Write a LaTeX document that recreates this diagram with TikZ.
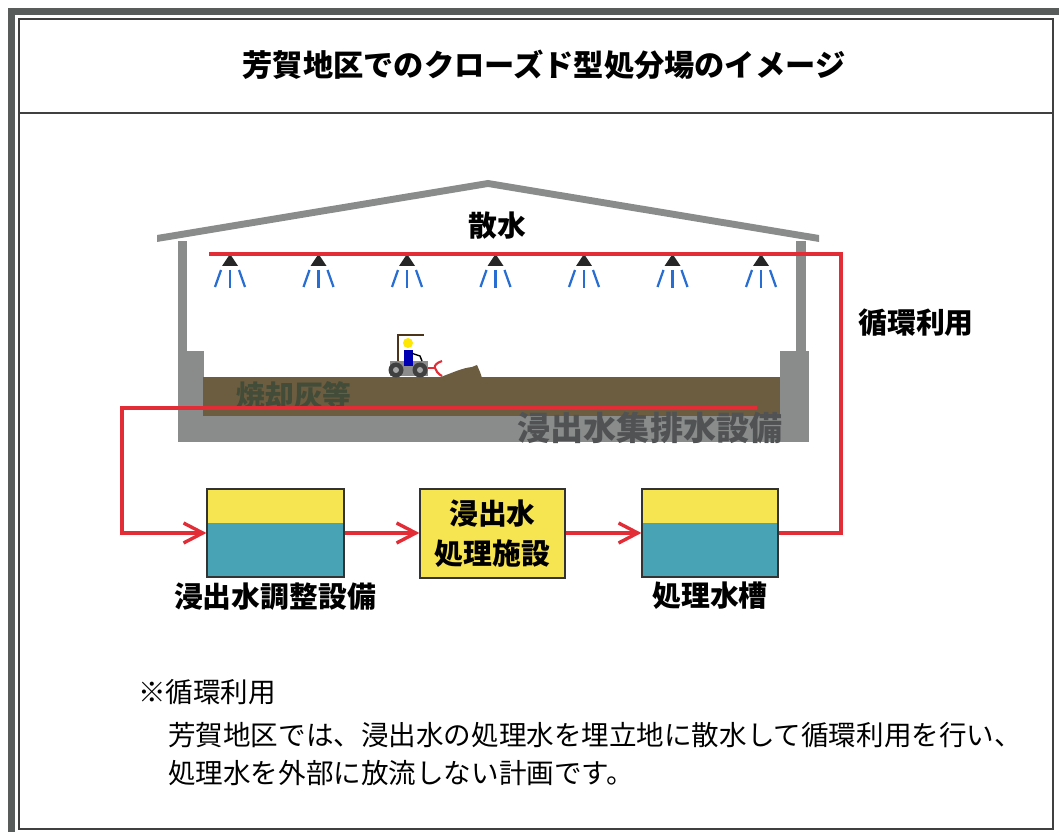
\documentclass[tikz,border=0pt]{standalone}
\usepackage{fontspec}
\usepackage{tikz}
\usetikzlibrary{arrows.meta}
\newfontfamily\jp{Noto Sans CJK JP}
\definecolor{waku}{RGB}{88,92,90}
\definecolor{kabe}{RGB}{137,140,139}
\definecolor{shokyakubai}{RGB}{108,92,64}
\definecolor{haisuikan}{RGB}{226,45,55}
\definecolor{tankue}{RGB}{246,228,80}
\definecolor{tanksui}{RGB}{72,163,181}
\definecolor{sansui}{RGB}{40,110,210}
\definecolor{setsubimoji}{RGB}{80,82,84}
\definecolor{haimoji}{RGB}{66,76,56}

\begin{document}
\begin{tikzpicture}[x=0.025cm,y=-0.025cm,
		pipe/.style={draw=haisuikan,line width=2.4pt},
		nagare/.style={pipe,-{Straight Barb[length=0.48cm,width=0.5cm]}},
		tank/.style={draw=black!80,line width=0.8pt,fill=tanksui,inner sep=0pt,
			minimum width=3.425cm,minimum height=2.2cm,
			path picture={\fill[tankue] (path picture bounding box.north west) rectangle ([yshift=-0.85cm]path picture bounding box.north east);}},
		futomoji/.style={inner sep=0pt,font=\jp\bfseries\fontsize{20.5pt}{25pt}\selectfont},
		chumoji/.style={inner sep=0pt,anchor=west,font=\jp\fontsize{19.6pt}{24pt}\selectfont}]
			\useasboundingbox (0,0) rectangle (1059,832);
			% frame and title
			\fill[waku] (8,8) rectangle (1059,15);
			\fill[waku] (8,8) rectangle (15,832);
			\draw[line width=0.9pt,black!75] (19,19) rectangle (1053,829);
			\draw[line width=1.2pt,black!75] (19,113) -- (1053,113);
			\node[futomoji,font=\jp\bfseries\fontsize{21.5pt}{25pt}\selectfont] (midashi) at (544,65) {芳賀地区でのクローズド型処分場のイメージ};
			% building
			\fill[kabe] (157,235) -- (488,180) -- (819,235) -- (819,242) -- (488,187) -- (157,242) -- cycle;
			\fill[kabe] (178,241) rectangle (187,442);
			\fill[kabe] (178,351) rectangle (204,442);
			\fill[kabe] (796,241) rectangle (806,442);
			\fill[kabe] (780,351) rectangle (809,442);
			\fill[kabe] (178,415) rectangle (809,442);
			\fill[shokyakubai] (203,377) rectangle (780,416);
			\fill[shokyakubai] (438,378) .. controls (452,373) and (462,368) .. (472,367) -- (477,365) -- (480,372) -- (482,378) -- cycle;
			% loader
			\draw[line width=2pt,black!60!brown] (398,365) -- (398,335) -- (424,335);
			\fill[black!45] (390,361) rectangle (428,376);
			\fill[black!75] (396,370) circle (7.5);
			\fill[black!75] (420,370) circle (7.5);
			\fill[black!35] (396,370) circle (3);
			\fill[black!35] (420,370) circle (3);
			\fill[blue!70!black] (404,350) rectangle (413,366);
			\fill[yellow!90!orange] (408,343) circle (5);
			\draw[line width=1pt] (411,353) -- (420,356) -- (422,361);
			\draw[haisuikan,line width=1.5pt] (428,368) -- (435,368);
			\draw[haisuikan,line width=1.5pt] (442,361) .. controls (436,363) and (434,366) .. (435,368) .. controls (436,371) and (438,374) .. (442,376);
			% sprinklers
			\foreach \i in {0,...,6}{
				\pgfmathsetmacro\x{230+88.5*\i}
				\fill[black!85] (\x-8,266) -- (\x,254) -- (\x+8,266) -- cycle;
				\draw[sansui,line width=1.6pt] (\x-9,270) -- (\x-15,287);
				\draw[sansui,line width=1.6pt] (\x,270) -- (\x,288);
				\draw[sansui,line width=1.6pt] (\x+9,270) -- (\x+15,287);
			}
			\coordinate (sprayW) at (209,254);
			\coordinate (loopNE) at (841,254);
			\coordinate (drainE) at (757,408);
			\coordinate (drainW) at (122,408);
			\node[futomoji] (sansuimoji) at (497,226) {散水};
			\node[futomoji] (junkan) at (916,323) {循環利用};
			\node[futomoji,text=haimoji] (hai) at (294,395) {焼却灰等};
			\node[futomoji,text=setsubimoji,font=\jp\bfseries\fontsize{23.5pt}{26pt}\selectfont] (shuhaisui) at (650,428) {浸出水集排水設備};
			% tanks
			\node[tank] (chosei) at (275.5,533) {};
			\node[draw=black!80,line width=0.8pt,fill=tankue,minimum width=3.625cm,minimum height=2.225cm,inner sep=0pt,align=center,
				font=\jp\bfseries\fontsize{20.5pt}{28pt}\selectfont] (shori) at (492.5,533.5) {浸出水\\処理施設};
			\node[tank,minimum width=3.4cm] (suiso) at (710,533) {};
			\node[futomoji] (choseimoji) at (275,597) {浸出水調整設備};
			\node[futomoji] (suisomoji) at (710,596) {処理水槽};
			% pipes
			\draw[nagare] (drainE) -- (drainW) |- (chosei.west);
			\draw[nagare] (chosei.east) -- (shori.west |- chosei.east);
			\draw[nagare] (shori.east |- suiso.west) -- (suiso.west);
			\draw[pipe] (suiso.east) -| (loopNE) -- (sprayW);
			% note
			\node[chumoji] (chu) at (138,692) {※循環利用};
			\node[chumoji] (chu1) at (168,735) {芳賀地区では、浸出水の処理水を埋立地に散水して循環利用を行い、};
			\node[chumoji] (chu2) at (168,773) {処理水を外部に放流しない計画です。};
		\end{tikzpicture}
\end{document}
